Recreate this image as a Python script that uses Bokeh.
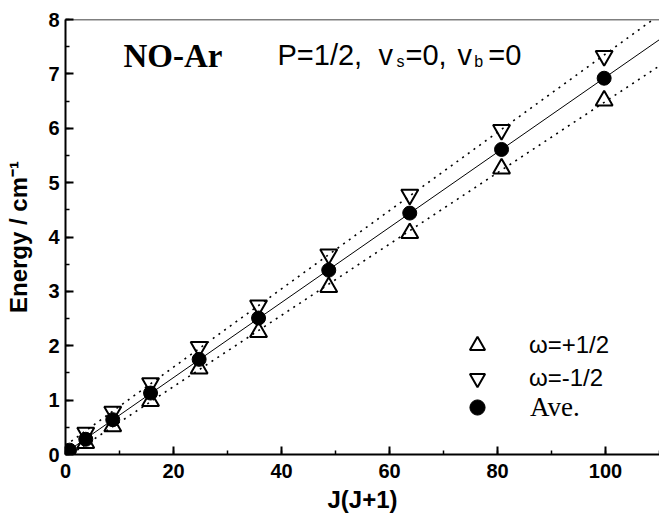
import numpy as np
from bokeh.plotting import figure
from bokeh.models import (Range1d, SingleIntervalTicker, Label, Legend,
                          LegendItem, Span)
from bokeh.embed import file_html
from bokeh.resources import INLINE

# Rotational levels of NO-Ar, P = 1/2, v_s = 0, v_b = 0
jj = [0.75, 3.75, 8.75, 15.75, 24.75, 35.75, 48.75, 63.75, 80.75, 99.75]
e_plus = [np.nan, 0.21, 0.52, 0.98, 1.58, 2.25, 3.08, 4.07, 5.26, 6.51]   # omega = +1/2
e_minus = [np.nan, 0.40, 0.79, 1.31, 1.98, 2.74, 3.68, 4.78, 5.97, 7.33]  # omega = -1/2
e_ave = [0.08, 0.28, 0.64, 1.13, 1.75, 2.51, 3.39, 4.44, 5.61, 6.92]      # average

x_ticks_interval = 20
y_ticks_interval = 1

SANS = "Liberation Sans"
SERIF = "Liberation Serif"


def linear_fit(x, y):
    x = np.asarray(x, float)
    y = np.asarray(y, float)
    ok = ~np.isnan(y)
    b, a = np.polyfit(x[ok], y[ok], 1)
    xs = np.array([0.0, 110.0])
    return xs, a + b * xs


p = figure(width=659, height=517, x_range=Range1d(0, 110), y_range=Range1d(0, 8),
           output_backend="svg", toolbar_location=None,
           min_border_left=65, min_border_right=0, min_border_top=19,
           min_border_bottom=63)
p.title.visible = False
p.grid.visible = False
p.outline_line_color = None
p.background_fill_color = "white"
p.border_fill_color = "white"

# frame top edge
p.add_layout(Span(location=8, dimension="width", line_color="black", line_width=1.5))

# fitted lines
fx, fy = linear_fit(jj, e_ave)
p.line(fx, fy, line_color="black", line_width=1)
fx, fy = linear_fit(jj, e_plus)
p.line(fx, fy, line_color="black", line_width=1.6, line_dash="2 5")
fx, fy = linear_fit(jj, e_minus)
p.line(fx, fy, line_color="black", line_width=1.6, line_dash="2 5")

# data points
r_plus = p.scatter(jj, e_plus, marker="triangle", size=17, fill_color=None,
                   line_color="black", line_width=2)
r_minus = p.scatter(jj, e_minus, marker="inverted_triangle", size=17, fill_color=None,
                    line_color="black", line_width=2)
r_ave = p.scatter(jj, e_ave, marker="circle", size=14, fill_color="black",
                  line_color="black")

# axes
for ax in (p.xaxis[0], p.yaxis[0]):
    ax.axis_line_width = 2
    ax.major_tick_line_width = 2
    ax.minor_tick_line_width = 1.5
    ax.major_tick_in = 8
    ax.major_tick_out = 0
    ax.minor_tick_in = 4
    ax.minor_tick_out = 0
    ax.major_label_text_font = SANS
    ax.major_label_text_font_size = "20px"
    ax.major_label_text_font_style = "bold"
    ax.major_label_text_color = "black"
    ax.axis_label_text_font = SANS
    ax.axis_label_text_font_size = "24px"
    ax.axis_label_text_font_style = "bold"
    ax.axis_label_text_color = "black"

p.xaxis.ticker = SingleIntervalTicker(interval=x_ticks_interval, num_minor_ticks=2)
p.yaxis.ticker = SingleIntervalTicker(interval=y_ticks_interval, num_minor_ticks=2)
p.xaxis.axis_label = "J(J+1)"
p.yaxis.axis_label = "Energy / cm\u207b\u00b9"
p.xaxis.major_label_standoff = 9
p.yaxis.major_label_standoff = 6
p.xaxis.axis_label_standoff = 5
p.yaxis.axis_label_standoff = 13

# heading
base = 7.34
sub = 7.22
p.add_layout(Label(x=10.74, y=7.32, text="NO-Ar", text_font=SERIF, text_font_size="33px",
                   text_font_style="bold", text_color="black", text_baseline="alphabetic"))


def head(x, y, text, size):
    p.add_layout(Label(x=x, y=y, text=text, text_font=SANS, text_font_size=size,
                       text_color="black", text_baseline="alphabetic"))


head(39.26, base, "P=1/2,", "29px")
head(57.96, base, "v", "29px")
head(61.3, sub, "s", "16px")
head(62.96, base, "=0,", "29px")
head(72.6, base, "v", "29px")
head(75.7, sub, "b", "16px")
head(78.3, base, "=0", "29px")


def key(item, loc, font, size, standoff):
    return Legend(items=[item], location=loc, glyph_width=38, glyph_height=38,
                  label_standoff=standoff, padding=0, margin=0, border_line_color=None,
                  background_fill_alpha=0, label_text_font=font,
                  label_text_font_size=size, label_text_color="black")


p.add_layout(key(LegendItem(label="\u03c9=+1/2", renderers=[r_plus]), (393, 90), SANS, "24px", 33))
p.add_layout(key(LegendItem(label="\u03c9=-1/2", renderers=[r_minus]), (393, 57), SANS, "24px", 33))
p.add_layout(key(LegendItem(label="Ave.", renderers=[r_ave]), (393, 28), SERIF, "27px", 34))

open("out.html", "w").write(file_html(p, INLINE))
